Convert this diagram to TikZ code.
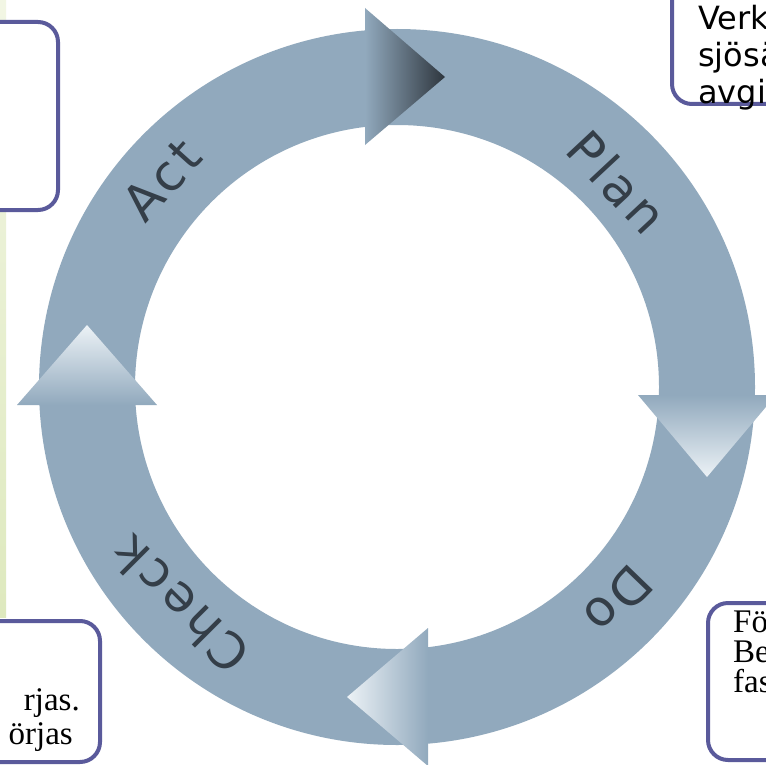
\documentclass[tikz,border=0pt]{standalone}
\usepackage{fontspec}
\setmainfont{Liberation Serif}
\newfontfamily\ringfont[LetterSpace=8]{DejaVu Sans}
\newfontfamily\boxsans{DejaVu Sans}
\definecolor{ringc}{RGB}{145,169,189}
\definecolor{tipdark}{RGB}{46,54,62}
\definecolor{tipmid}{RGB}{105,115,128}
\definecolor{tiplight}{RGB}{236,242,246}
\definecolor{boxc}{RGB}{90,90,155}
\definecolor{labelc}{RGB}{52,62,72}
\definecolor{greenA}{RGB}{242,246,228}
\definecolor{greenB}{RGB}{222,233,190}
\tikzset{
  callout/.style={draw=boxc, line width=4, fill=white, rounded corners=20},
  ringlabel/.style={text=labelc, font=\ringfont\fontsize{50}{56}\selectfont, inner sep=0},
  sanstext/.style={font=\boxsans\fontsize{32}{36}\selectfont, inner sep=0, anchor=base west},
  seriftext/.style={font=\fontsize{33}{36}\selectfont, inner sep=0},
}
\begin{document}
\begin{tikzpicture}[x=1pt,y=-1pt]
\useasboundingbox (0,0) rectangle (765,765);
\fill[white] (0,0) rectangle (765,765);
% green strip
\shade[top color=greenA, bottom color=greenB] (0,0) rectangle (6,617);
% ring
\coordinate (c) at (397,387);
\fill[ringc, even odd rule] (c) circle[radius=358] (c) circle[radius=262];
% arrowheads
\shade[left color=ringc, middle color=tipmid, right color=tipdark]
  (365,8) -- (445,77) -- (365,145) -- cycle;
\shade[top color=ringc, bottom color=tiplight]
  (638,395) -- (776,395) -- (707,477) -- cycle;
\shade[bottom color=ringc, top color=tiplight]
  (17,405) -- (157,405) -- (87,325) -- cycle;
\shade[right color=ringc, left color=tiplight]
  (428,628) -- (428,766) -- (347,697) -- cycle;
% ring labels
\node[ringlabel, rotate=-47] (plan) at (617,182) {Plan};
\node[ringlabel, rotate=48] (act) at (162,180) {Act};
\node[ringlabel, rotate=-134] (do) at (618,600) {Do};
\node[ringlabel, rotate=135] (check) at (180,605) {Check};
% callout boxes
\draw[callout] (-40,22) rectangle (58,210);
\draw[callout] (672,-40) rectangle (820,104);
\draw[callout] (-40,621) rectangle (100,762);
\draw[callout] (708,603) rectangle (820,760);
% texts
\node[sanstext] (t1) at (698,30) {Verk};
\node[sanstext] (t2) at (698,67) {sjösä};
\node[sanstext] (t3) at (698,103) {avgi};
\node[seriftext, anchor=base east] (b1) at (80,710) {rjas.};
\node[seriftext, anchor=base east] (b2) at (73,744) {örjas};
\node[seriftext, anchor=base west] (r1) at (733,632) {Fö};
\node[seriftext, anchor=base west] (r2) at (733,662) {Be};
\node[seriftext, anchor=base west] (r3) at (733,692) {fas};
\end{tikzpicture}
\end{document}
